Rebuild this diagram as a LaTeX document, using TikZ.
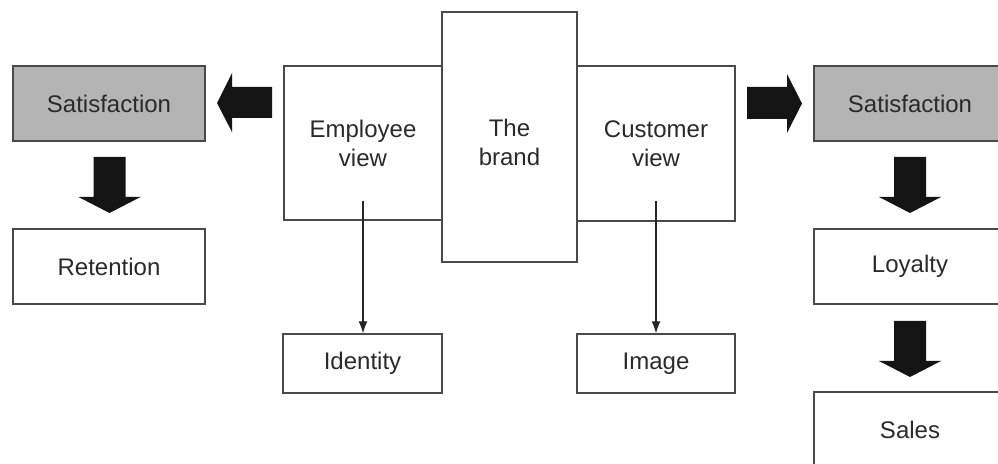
\documentclass[tikz,border=0pt]{standalone}
\usepackage{fontspec}
\setmainfont{Liberation Sans}
\usepackage{tikz}
\usetikzlibrary{arrows.meta}
\tikzset{>={Latex[length=12pt,width=9pt]}}
\definecolor{boxline}{HTML}{4A4A4A}
\definecolor{satgray}{HTML}{B4B4B4}
\definecolor{txtgray}{HTML}{2A2A2A}
\tikzset{
  box/.style={draw=boxline, line width=1.4pt, fill=white, text=txtgray,
    inner sep=0pt, align=center, font=\fontsize{24}{29}\selectfont},
  satbox/.style={box, fill=satgray},
  fat/.style={fill=black!92, draw=none}
}

\begin{document}
\begin{tikzpicture}[x=1pt,y=1pt]
    \clip (0,0) rectangle (998,463);
    \fill[white] (0,0) rectangle (998,463);
    % left side
    \node[satbox, minimum width=192pt, minimum height=75pt] (satL) at (109,359.5) {Satisfaction};
    \node[box, minimum width=192pt, minimum height=75pt] (ret) at (109,196.5) {Retention};
    % middle
    \node[box, minimum width=158pt, minimum height=154pt] (emp) at (363,320) {Employee\\view};
    \node[box, minimum width=158pt, minimum height=155pt] (cust) at (656,319.5) {Customer\\view};
    \node[box, minimum width=135pt, minimum height=250pt,
      label={[font=\fontsize{24}{29}\selectfont, text=txtgray, align=center, yshift=-5pt]center:The\\brand}] (brand) at (509.5,326) {};
    \node[box, minimum width=159pt, minimum height=59pt] (ident) at (362.5,99.5) {Identity};
    \node[box, minimum width=158pt, minimum height=59pt] (img) at (656,99.5) {Image};
    % right side
    \node[satbox, minimum width=192pt, minimum height=75pt] (satR) at (910,359.5) {Satisfaction};
    \node[box, minimum width=192pt, minimum height=75pt] (loy) at (910,196.5) {Loyalty};
    \node[box, minimum width=192pt, minimum height=75pt] (sales) at (910,33.5) {Sales};
    % thin arrows
    \coordinate (e1) at (363,262);
    \coordinate (c1) at (656,262);
    \draw[->, line width=1.1pt, black!85] (e1) -- (ident.north -| e1);
    \draw[->, line width=1.1pt, black!85] (c1) -- (img.north -| c1);
    % fat arrows
    \fill[fat] (217,360) -- (232,390) -- (232,376) -- (272,376) -- (272,345) -- (232,345) -- (232,331) -- cycle;
    \fill[fat] (802,359.5) -- (787,389) -- (787,376) -- (747,376) -- (747,344) -- (787,344) -- (787,330) -- cycle;
    \foreach \x/\y in {109.5/306, 910/306, 910/142}
      \fill[fat] (\x-16,\y) -- (\x+16,\y) -- (\x+16,\y-40) -- (\x+31,\y-40)
        -- (\x,\y-56) -- (\x-31,\y-40) -- (\x-16,\y-40) -- cycle;
\end{tikzpicture}
\end{document}
